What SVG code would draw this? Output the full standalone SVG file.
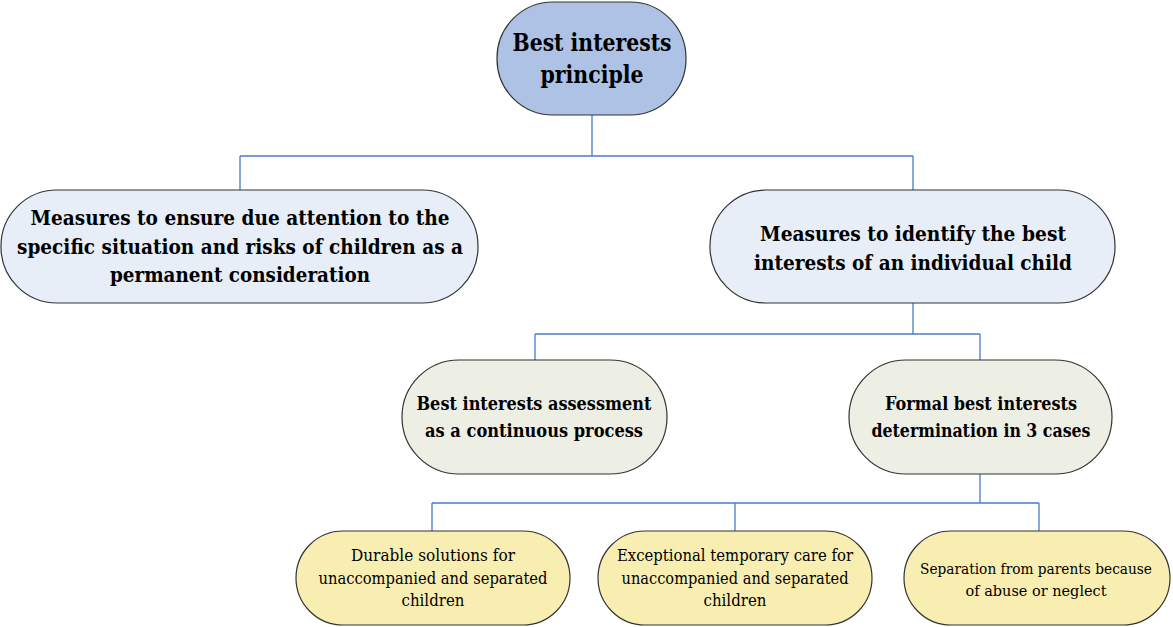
<svg xmlns="http://www.w3.org/2000/svg" width="1173" height="627" viewBox="0 0 1173 627">
<style>
.node{stroke:#333;stroke-width:1.2}
.l0{fill:#adc2e4}
.l1{fill:#e8eef8}
.l2{fill:#eeefe4}
.l3{fill:#f8eeb2}
.t{font-family:"DejaVu Serif","Liberation Serif",serif;fill:#000;text-anchor:middle}
.b{font-weight:bold}
.conn{fill:none;stroke:#4a7cc9;stroke-width:1.3}
</style>
<rect width="1173" height="627" fill="#fff"/>
<g id="connectors" class="conn">
<path d="M592 115V156M240 156H913M240 156V190M913 156V190"/>
<path d="M913 303V334M535 334H980M535 334V360M980 334V360"/>
<path d="M980 474V503M432 503H1039M432 503V531M735 503V531M1039 503V531"/>
</g>
<g id="n0">
<rect class="node l0" x="497" y="2" width="189" height="113" rx="56" ry="56"/>
<text class="t b" font-size="25" x="592" y="51" textLength="159" lengthAdjust="spacingAndGlyphs">Best interests</text>
<text class="t b" font-size="25" x="592" y="83" textLength="103" lengthAdjust="spacingAndGlyphs">principle</text>
</g>
<g id="n1">
<rect class="node l1" x="1" y="190" width="477" height="113" rx="56" ry="56"/>
<text class="t b" font-size="21" x="240" y="225" textLength="419" lengthAdjust="spacingAndGlyphs">Measures to ensure due attention to the</text>
<text class="t b" font-size="21" x="240" y="254" textLength="446" lengthAdjust="spacingAndGlyphs">specific situation and risks of children as a</text>
<text class="t b" font-size="21" x="240" y="282" textLength="260" lengthAdjust="spacingAndGlyphs">permanent consideration</text>
</g>
<g id="n2">
<rect class="node l1" x="710" y="190" width="405" height="113" rx="56" ry="56"/>
<text class="t b" font-size="21" x="913" y="241" textLength="306" lengthAdjust="spacingAndGlyphs">Measures to identify the best</text>
<text class="t b" font-size="21" x="913" y="270" textLength="318" lengthAdjust="spacingAndGlyphs">interests of an individual child</text>
</g>
<g id="n3">
<rect class="node l2" x="402" y="360" width="265" height="114" rx="57" ry="57"/>
<text class="t b" font-size="18" x="534" y="410" textLength="235" lengthAdjust="spacingAndGlyphs">Best interests assessment</text>
<text class="t b" font-size="18" x="534" y="437" textLength="218" lengthAdjust="spacingAndGlyphs">as a continuous process</text>
</g>
<g id="n4">
<rect class="node l2" x="849" y="360" width="263" height="114" rx="57" ry="57"/>
<text class="t b" font-size="18" x="981" y="410" textLength="192" lengthAdjust="spacingAndGlyphs">Formal best interests</text>
<text class="t b" font-size="18" x="981" y="437" textLength="219" lengthAdjust="spacingAndGlyphs">determination in 3 cases</text>
</g>
<g id="n5">
<rect class="node l3" x="296" y="531" width="274" height="94" rx="47" ry="47"/>
<text class="t" font-size="16" x="433" y="561" textLength="164" lengthAdjust="spacingAndGlyphs">Durable solutions for</text>
<text class="t" font-size="16" x="433" y="584" textLength="229" lengthAdjust="spacingAndGlyphs">unaccompanied and separated</text>
<text class="t" font-size="16" x="433" y="606" textLength="63" lengthAdjust="spacingAndGlyphs">children</text>
</g>
<g id="n6">
<rect class="node l3" x="598" y="531" width="274" height="94" rx="47" ry="47"/>
<text class="t" font-size="16" x="735" y="561" textLength="236" lengthAdjust="spacingAndGlyphs">Exceptional temporary care for</text>
<text class="t" font-size="16" x="735" y="584" textLength="227" lengthAdjust="spacingAndGlyphs">unaccompanied and separated</text>
<text class="t" font-size="16" x="735" y="606" textLength="63" lengthAdjust="spacingAndGlyphs">children</text>
</g>
<g id="n7">
<rect class="node l3" x="904" y="531" width="266" height="94" rx="47" ry="47"/>
<text class="t" font-size="14" x="1036" y="574" textLength="232" lengthAdjust="spacingAndGlyphs">Separation from parents because</text>
<text class="t" font-size="14" x="1036" y="596" textLength="141" lengthAdjust="spacingAndGlyphs">of abuse or neglect</text>
</g>
</svg>
